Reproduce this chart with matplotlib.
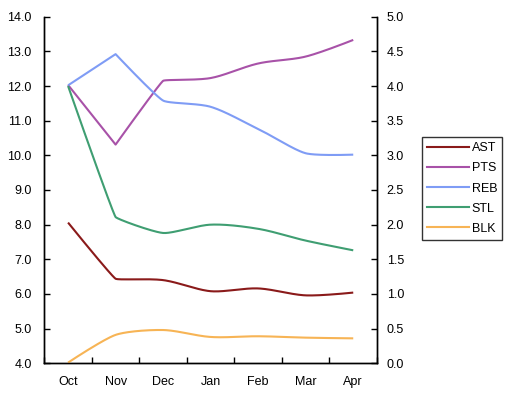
import numpy as np
import matplotlib
matplotlib.use("Agg")
import matplotlib.pyplot as plt
from matplotlib.lines import Line2D

months = ["Oct", "Nov", "Dec", "Jan", "Feb", "Mar", "Apr"]
pts = [12.03, 10.31, 12.15, 12.23, 12.65, 12.85, 13.33]   # left axis
ast = [2.03, 1.22, 1.20, 1.04, 1.08, 0.98, 1.02]           # right axis
reb = [4.01, 4.46, 3.79, 3.70, 3.38, 3.03, 3.01]           # right axis
stl = [4.00, 2.11, 1.88, 2.00, 1.94, 1.77, 1.63]           # right axis
blk = [0.01, 0.41, 0.48, 0.38, 0.39, 0.37, 0.36]           # right axis

left_ticks = [4.0, 5.0, 6.0, 7.0, 8.0, 9.0, 10.0, 11.0, 12.0, 13.0, 14.0]
right_ticks = [0.0, 0.5, 1.0, 1.5, 2.0, 2.5, 3.0, 3.5, 4.0, 4.5, 5.0]

plt.rcParams['font.family'] = ['Liberation Sans', 'DejaVu Sans']
FS = 9

fig = plt.figure(figsize=(5.06, 3.99), dpi=100)
ax = fig.add_axes([44.3 / 506, 1 - 363.3 / 399, (377 - 44.3) / 506, (363.3 - 16.7) / 399])
ax2 = ax.twinx()

x = np.arange(len(months))
ax.set_xlim(-0.5, len(months) - 0.5)
ax.set_ylim(4, 14)
ax2.set_ylim(0, 5)


def smooth(axis, xs, ys, n=40):
    tr = axis.transData
    P = tr.transform(np.column_stack([xs, ys]))
    m = len(P)
    cin = [None] * m
    cout = [None] * m
    for i in range(m):
        if i == 0 or i == m - 1:
            cin[i] = P[i]
            cout[i] = P[i]
            continue
        a = P[i] - P[i - 1]
        b = P[i + 1] - P[i]
        la, lb = np.linalg.norm(a), np.linalg.norm(b)
        cos = np.dot(a, b) / (la * lb)
        k = (1 / 3) * max(0.0, cos) ** 4
        d = P[i + 1] - P[i - 1]
        u = d / np.linalg.norm(d)
        cin[i] = P[i] - u * la * k
        cout[i] = P[i] + u * lb * k
    t = np.linspace(0, 1, n)[:, None]
    segs = []
    for i in range(m - 1):
        p0, p1, p2, p3 = P[i], cout[i], cin[i + 1], P[i + 1]
        seg = ((1 - t) ** 3) * p0 + 3 * ((1 - t) ** 2) * t * p1 + 3 * (1 - t) * t ** 2 * p2 + t ** 3 * p3
        segs.append(seg if i == 0 else seg[1:])
    pts_disp = np.vstack(segs)
    data = tr.inverted().transform(pts_disp)
    return data[:, 0], data[:, 1]


series = [
    ("AST", ax2, ast, "#8a1a1a"),
    ("PTS", ax, pts, "#a852a8"),
    ("REB", ax2, reb, "#7f9cf5"),
    ("STL", ax2, stl, "#3f9e72"),
    ("BLK", ax2, blk, "#f7b455"),
]

LW = 1.5
handles = []
for name, axis, vals, col in series:
    sx, sy = smooth(axis, x, vals)
    axis.plot(sx, sy, color=col, lw=LW, solid_capstyle='butt', clip_on=False)
    handles.append(Line2D([], [], color=col, lw=LW))

ax.set_xticks(np.arange(len(months) + 1) - 0.5, minor=False)
ax.set_xticklabels([])
ax.set_xticks(x, minor=True)
ax.set_xticklabels(months, minor=True, fontsize=FS)
ax.tick_params(axis='x', which='major', direction='in', length=4, width=1)
ax.tick_params(axis='x', which='minor', length=0, pad=9)

ax.set_yticks(left_ticks)
ax.set_yticklabels([f"{v:.1f}" for v in left_ticks], fontsize=FS)
ax.tick_params(axis='y', direction='in', length=4, width=1, pad=9)
ax2.set_yticks(right_ticks)
ax2.set_yticklabels([f"{v:.1f}" for v in right_ticks], fontsize=FS)
ax2.tick_params(axis='y', direction='in', length=4, width=1, pad=7)

for a in (ax, ax2):
    a.spines['top'].set_visible(False)
    for s in ('left', 'right', 'bottom'):
        a.spines[s].set_linewidth(1)
        a.spines[s].set_color('black')

leg = fig.legend(handles, [s[0] for s in series], loc='upper left',
                 bbox_to_anchor=(422.3 / 506, 1 - 137.3 / 399),
                 bbox_transform=fig.transFigure, fontsize=FS,
                 frameon=True, fancybox=False, shadow=False,
                 handlelength=3.3, handletextpad=0.25, labelspacing=0.65,
                 borderpad=0.4, borderaxespad=0)
leg.get_frame().set_edgecolor('black')
leg.get_frame().set_linewidth(1)

fig.savefig("out.png", dpi=100)
